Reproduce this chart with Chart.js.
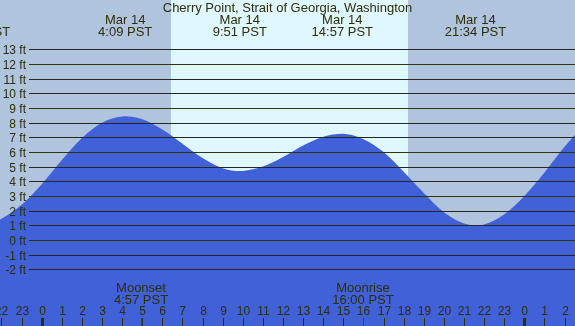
<!DOCTYPE html>
<html>
<head>
<meta charset="utf-8">
<script src="https://cdn.jsdelivr.net/npm/chart.js@4"></script>
<style>
  body { margin: 0; background: #b0c4de; }
  #tide { display: block; }
</style>
</head>
<body>
<canvas id="tide" width="575" height="326"></canvas>
<script>
// tide heights (ft), hours from Mar 14 0:00
const tideHours = [-3.1, -2, -1, 0, 1, 2, 3, 4, 4.15, 5, 6, 7, 8, 9, 9.85, 10, 11, 12, 13, 14, 14.95, 16, 17, 18, 19, 20, 21, 21.57, 22, 23, 24, 25, 26, 27];
const tideFeet = [0.8, 1.45, 2.4, 3.8, 5.45, 6.95, 8.0, 8.42, 8.43, 8.23, 7.54, 6.57, 5.59, 4.9, 4.7, 4.71, 5.01, 5.66, 6.44, 7.04, 7.25, 6.87, 6.0, 4.65, 3.2, 1.9, 1.12, 1.0, 1.05, 1.75, 3.0, 4.6, 6.35, 7.9];

// high / low labels along the top
const eventHours = [-3.1, 4.15, 9.85, 14.95, 21.57];
const eventDates = ['Mar 13', 'Mar 14', 'Mar 14', 'Mar 14', 'Mar 14'];
const eventTimes = ['20:54 PST', '4:09 PST', '9:51 PST', '14:57 PST', '21:34 PST'];

const moonHours = [4.95, 16.0];
const moonNames = ['Moonset', 'Moonrise'];
const moonTimes = ['4:57 PST', '16:00 PST'];

const sunrise = 6.43;
const sunset = 18.22;

const feetTicks = [-2, -1, 0, 1, 2, 3, 4, 5, 6, 7, 8, 9, 10, 11, 12, 13];
const hourTicks = [-2, -1, 0, 1, 2, 3, 4, 5, 6, 7, 8, 9, 10, 11, 12, 13, 14, 15, 16, 17, 18, 19, 20, 21, 22, 23, 24, 25, 26];
const hourLabels = ['22', '23', '0', '1', '2', '3', '4', '5', '6', '7', '8', '9', '10', '11', '12', '13', '14', '15', '16', '17', '18', '19', '20', '21', '22', '23', '0', '1', '2'];

const textColor = '#2e2e08';
const font = '"Liberation Sans", Arial, sans-serif';

const tidePlugin = {
    id: 'tideDecor',
    beforeDatasetsDraw(chart) {
        const {ctx, chartArea: a, scales: {x}} = chart;
        ctx.save();
        ctx.fillStyle = '#b0c4de';
        ctx.fillRect(a.left, a.top, a.width, a.height);
        const x1 = x.getPixelForValue(sunrise);
        const x2 = x.getPixelForValue(sunset);
        ctx.fillStyle = '#dff7ff';
        ctx.fillRect(Math.round(x1), a.top, Math.round(x2) - Math.round(x1), a.height);
        ctx.restore();
    },
    afterDatasetsDraw(chart) {
        const {ctx, chartArea: a, scales: {x, y}} = chart;
        ctx.save();

        // horizontal lines + ft labels
        ctx.font = '12px ' + font;
        ctx.textAlign = 'right';
        ctx.textBaseline = 'alphabetic';
        feetTicks.forEach(v => {
            const py = Math.round(y.getPixelForValue(v)) + 0.5;
            ctx.strokeStyle = (v % 3 === 0) ? '#33330a' : '#262620';
            ctx.lineWidth = 1;
            ctx.beginPath();
            ctx.moveTo(29, py);
            ctx.lineTo(a.right, py);
            ctx.stroke();
            ctx.fillStyle = textColor;
            ctx.fillText(v + ' ft', 26, py + 4);
        });

        // hour ticks along the bottom
        ctx.textAlign = 'center';
        hourTicks.forEach((h, i) => {
            const px = Math.round(x.getPixelForValue(h));
            ctx.fillStyle = '#2e2e08';
            if (h % 24 === 0) {
                ctx.fillRect(px - 1, 318, 3, 8);
            } else {
                ctx.fillRect(px, 318, 1, 8);
            }
            ctx.fillStyle = textColor;
            ctx.fillText(hourLabels[i], px + 0.5, 315);
        });

        // moon events
        ctx.font = '13px ' + font;
        moonHours.forEach((h, i) => {
            const px = Math.round(x.getPixelForValue(h));
            ctx.fillStyle = '#e00000';
            ctx.fillRect(px, 318, 1, 8);
            ctx.fillStyle = textColor;
            ctx.fillText(moonNames[i], px, 292);
            ctx.fillText(moonTimes[i], px, 304);
        });

        // title and tide events
        eventHours.forEach((h, i) => {
            const px = x.getPixelForValue(h);
            ctx.fillText(eventDates[i], px, 24);
            ctx.fillText(eventTimes[i], px, 36);
        });
        ctx.fillText('Cherry Point, Strait of Georgia, Washington', (a.left + a.right) / 2, 12);

        ctx.restore();
    }
};

new Chart(document.getElementById('tide'), {
    type: 'line',
    data: {
        datasets: [{
            data: tideHours.map((h, i) => ({x: h, y: tideFeet[i]})),
            fill: 'start',
            backgroundColor: '#4161d9',
            borderWidth: 0,
            pointRadius: 0,
            cubicInterpolationMode: 'monotone'
        }]
    },
    options: {
        responsive: false,
        animation: false,
        devicePixelRatio: 1,
        layout: {padding: 0},
        plugins: {
            legend: {display: false},
            tooltip: {enabled: false}
        },
        scales: {
            x: {type: 'linear', display: false, min: -2.074, max: 26.52},
            y: {type: 'linear', display: false, min: -5.86, max: 16.36}
        }
    },
    plugins: [tidePlugin]
});
</script>
</body>
</html>
